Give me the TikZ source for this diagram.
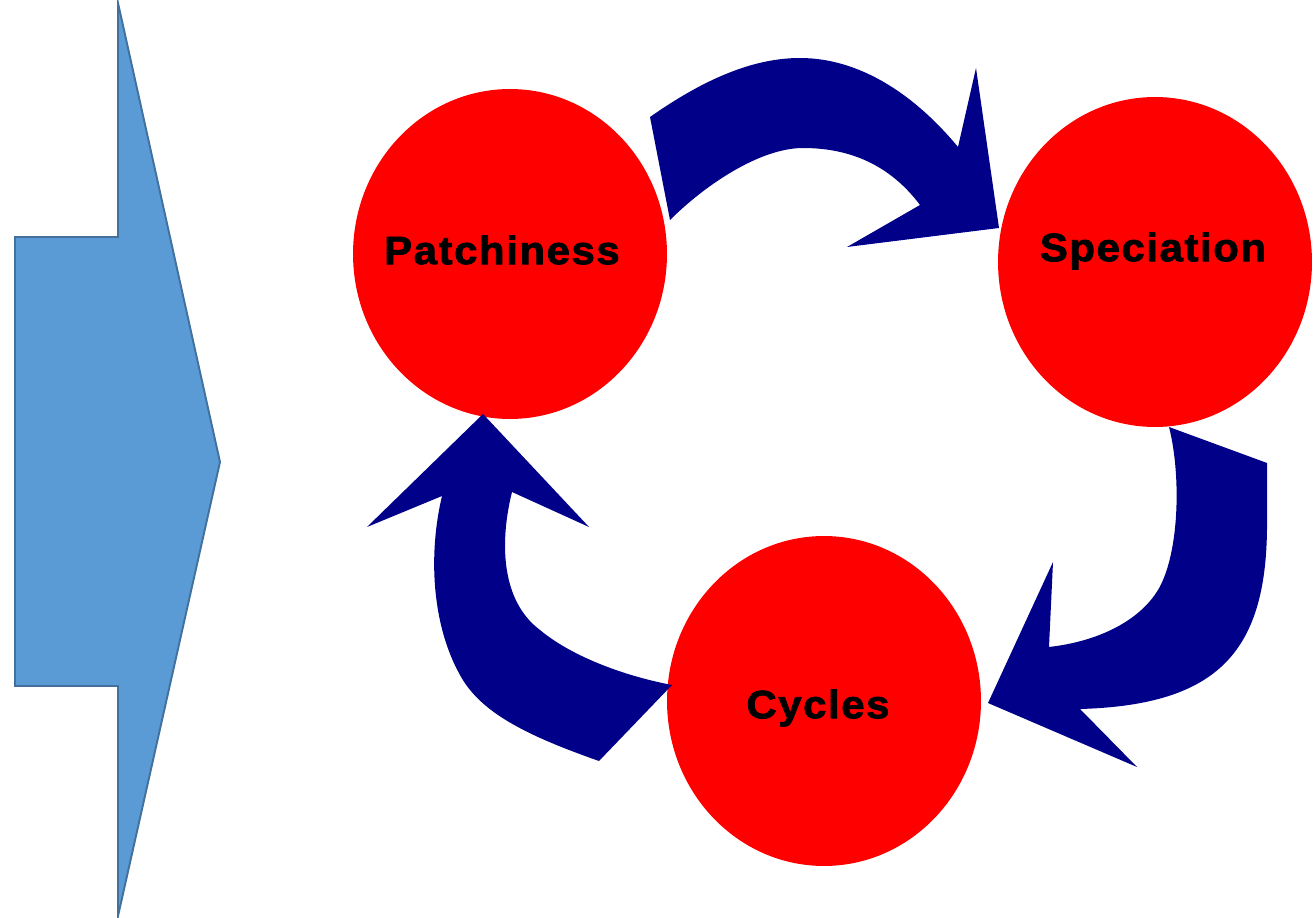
\documentclass[tikz,border=0pt]{standalone}
\usepackage{fontspec}
\newfontfamily\blackfont[FakeStretch=1.06,FakeBold=2,LetterSpace=4]{Liberation Sans Bold}
\usetikzlibrary{shapes.geometric}
\definecolor{arrowblue}{RGB}{0,0,136}
\definecolor{bigfill}{RGB}{91,155,213}
\definecolor{bigline}{RGB}{65,113,156}
\tikzset{
  bubble/.style={ellipse, fill=red, draw=none, minimum width=6.28cm, minimum height=6.6cm, inner sep=0pt},
  bubbletext/.style={font=\blackfont\fontsize{22.5}{26}\selectfont, text=black},
  cyclearrow/.style={fill=arrowblue, draw=none}
}
\begin{document}
\begin{tikzpicture}[x=0.02cm,y=-0.02cm]
\useasboundingbox (0,0) rectangle (1314,918);

% big arrow on the left
\filldraw[fill=bigfill, draw=bigline, line width=1.1pt, line join=miter]
  (15,237) -- (118,237) -- (118,3) -- (220,462) -- (118,916) -- (118,686) -- (15,686) -- cycle;

% the three stages
\node[bubble] (patch) at (510,254) {};
\node[bubble] (spec) at (1155,262) {};
\node[bubble] (cyc) at (824,701) {};

\node[bubbletext] (patchtext) at (502,250) {Patchiness};
\node[bubbletext] (spectext) at (1153,251) {Speciation};
\node[bubbletext] (cyctext) at (818,708) {Cycles};

% Patchiness to Speciation
\fill[cyclearrow] (650,117) .. controls (700,82) and (750,58) .. (800,58)
  .. controls (860,58) and (915,95) .. (958,147)
  -- (976,68) -- (999,228) -- (847,247) -- (920,205)
  .. controls (890,165) and (850,148) .. (803,148)
  .. controls (760,148) and (705,185) .. (670,220) -- cycle;

% Speciation to Cycles
\fill[cyclearrow] (1169,427) -- (1267,463) -- (1267,520)
  .. controls (1268,650) and (1220,705) .. (1080,709)
  -- (1137,767) -- (988,703) -- (1053,562) -- (1049,647)
  .. controls (1110,640) and (1150,612) .. (1163,580)
  .. controls (1180,540) and (1180,470) .. (1169,427) -- cycle;

% Cycles to Patchiness
\fill[cyclearrow] (483,414) -- (589,527) -- (512,492)
  .. controls (500,540) and (500,600) .. (540,630)
  .. controls (570,655) and (620,675) .. (672,685)
  -- (599,761)
  .. controls (525,735) and (480,712) .. (460,675)
  .. controls (432,625) and (428,555) .. (442,496)
  -- (367,527) -- cycle;

\end{tikzpicture}
\end{document}
